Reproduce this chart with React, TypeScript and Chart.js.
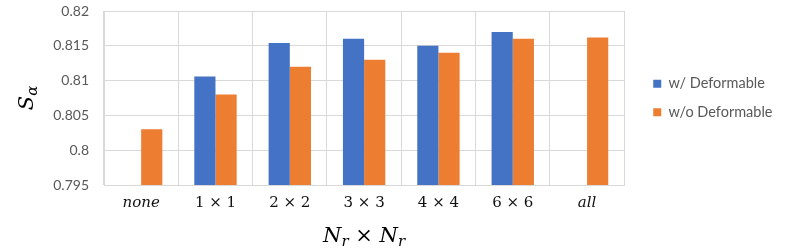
import { useEffect, useRef } from 'react';
import { Chart, registerables } from 'chart.js';

Chart.register(...registerables);

const categories = ['none', '1 × 1', '2 × 2', '3 × 3', '4 × 4', '6 × 6', 'all'];
const italicCategories = ['none', 'all'];
const withDeformable = [null, 0.8106, 0.8154, 0.816, 0.815, 0.817, null];
const withoutDeformable = [0.803, 0.808, 0.812, 0.813, 0.814, 0.816, 0.8162];
const yTicks = [0.795, 0.8, 0.805, 0.81, 0.815, 0.82];
const seriesNames = ['w/ Deformable', 'w/o Deformable'];
const seriesColors = ['#4472C4', '#ED7D31'];
const xTitleParts = [
  { text: 'N', kind: 'main' },
  { text: 'r', kind: 'sub' },
  { text: ' × ', kind: 'op' },
  { text: 'N', kind: 'main' },
  { text: 'r', kind: 'sub' },
];
const yTitleParts = [
  { text: 'S', kind: 'main' },
  { text: 'α', kind: 'sub' },
];

const FONT_FAMILY = "'DejaVu Serif'";

function fontFor(kind: string) {
  if (kind === 'main') return `italic 21px ${FONT_FAMILY}`;
  if (kind === 'sub') return `italic 15px ${FONT_FAMILY}`;
  return `21px ${FONT_FAMILY}`;
}

function drawParts(ctx: CanvasRenderingContext2D, parts: { text: string; kind: string }[], cx: number, baseline: number) {
  let total = 0;
  const widths = parts.map((p) => {
    ctx.font = fontFor(p.kind);
    const w = ctx.measureText(p.text).width;
    total += w;
    return w;
  });
  let x = cx - total / 2;
  parts.forEach((p, i) => {
    ctx.font = fontFor(p.kind);
    ctx.fillText(p.text, x, baseline + (p.kind === 'sub' ? 4 : 0));
    x += widths[i];
  });
}

const mathTitles = {
  id: 'mathTitles',
  afterDraw(chart: any) {
    const { ctx, chartArea } = chart;
    ctx.save();
    ctx.fillStyle = '#000000';
    ctx.textBaseline = 'alphabetic';
    ctx.textAlign = 'left';
    const cx = (chartArea.left + chartArea.right) / 2;
    drawParts(ctx, xTitleParts, cx, 242);
    const cy = (chartArea.top + chartArea.bottom) / 2;
    ctx.translate(33, cy);
    ctx.rotate(-Math.PI / 2);
    drawParts(ctx, yTitleParts, 0, 0);
    ctx.restore();
  },
};

export default function App() {
  const canvasRef = useRef<HTMLCanvasElement | null>(null);

  useEffect(() => {
    if (!canvasRef.current) return;
    const chart = new Chart(canvasRef.current, {
      type: 'bar',
      data: {
        labels: categories,
        datasets: [
          {
            label: seriesNames[0],
            data: withDeformable,
            backgroundColor: seriesColors[0],
            borderWidth: 0,
            categoryPercentage: 0.57,
            barPercentage: 1.0,
          },
          {
            label: seriesNames[1],
            data: withoutDeformable,
            backgroundColor: seriesColors[1],
            borderWidth: 0,
            categoryPercentage: 0.57,
            barPercentage: 1.0,
          },
        ],
      },
      options: {
        animation: false,
        responsive: false,
        maintainAspectRatio: false,
        layout: { padding: { top: 11, right: 6.5, left: 0, bottom: 0 } },
        plugins: {
          legend: {
            position: 'right',
            fullSize: false,
            align: 'center',
            labels: {
              boxWidth: 8,
              boxHeight: 8,
              padding: 14,
              color: '#595959',
              font: { family: 'Lato', size: 14.5 },
            },
          },
          tooltip: { enabled: false },
        },
        scales: {
          x: {
            grid: { color: '#D9D9D9', drawTicks: false, offset: true },
            border: { color: '#D9D9D9' },
            ticks: {
              color: '#111111',
              padding: 9,
              maxRotation: 0,
              autoSkip: false,
              font: (c: any) => ({
                family: 'DejaVu Serif',
                size: 15,
                style: italicCategories.includes(categories[c.index]) ? 'italic' : 'normal',
              }),
            },
            afterFit: (s: any) => {
              s.height = 66;
            },
          },
          y: {
            min: yTicks[0],
            max: yTicks[yTicks.length - 1],
            grid: { color: '#D9D9D9', drawTicks: false },
            border: { color: '#D9D9D9' },
            afterBuildTicks: (s: any) => {
              s.ticks = yTicks.map((v) => ({ value: v }));
            },
            ticks: {
              color: '#595959',
              padding: 15,
              font: { family: 'Lato', size: 14 },
              callback: (v: any) => String(v),
            },
            afterFit: (s: any) => {
              s.width = 104;
              s.paddingTop = 0;
              s.paddingBottom = 0;
            },
          },
          gap: {
            type: 'linear',
            position: 'right',
            display: false,
            afterFit: (s: any) => {
              s.width = 15;
            },
          },
        },
      },
      plugins: [mathTitles],
    } as any);
    return () => chart.destroy();
  }, []);

  return (
    <div style={{ position: 'fixed', left: 0, top: 0, width: 789, height: 251, background: '#fff' }}>
      <canvas ref={canvasRef} width={789} height={251} style={{ display: 'block' }} />
    </div>
  );
}
